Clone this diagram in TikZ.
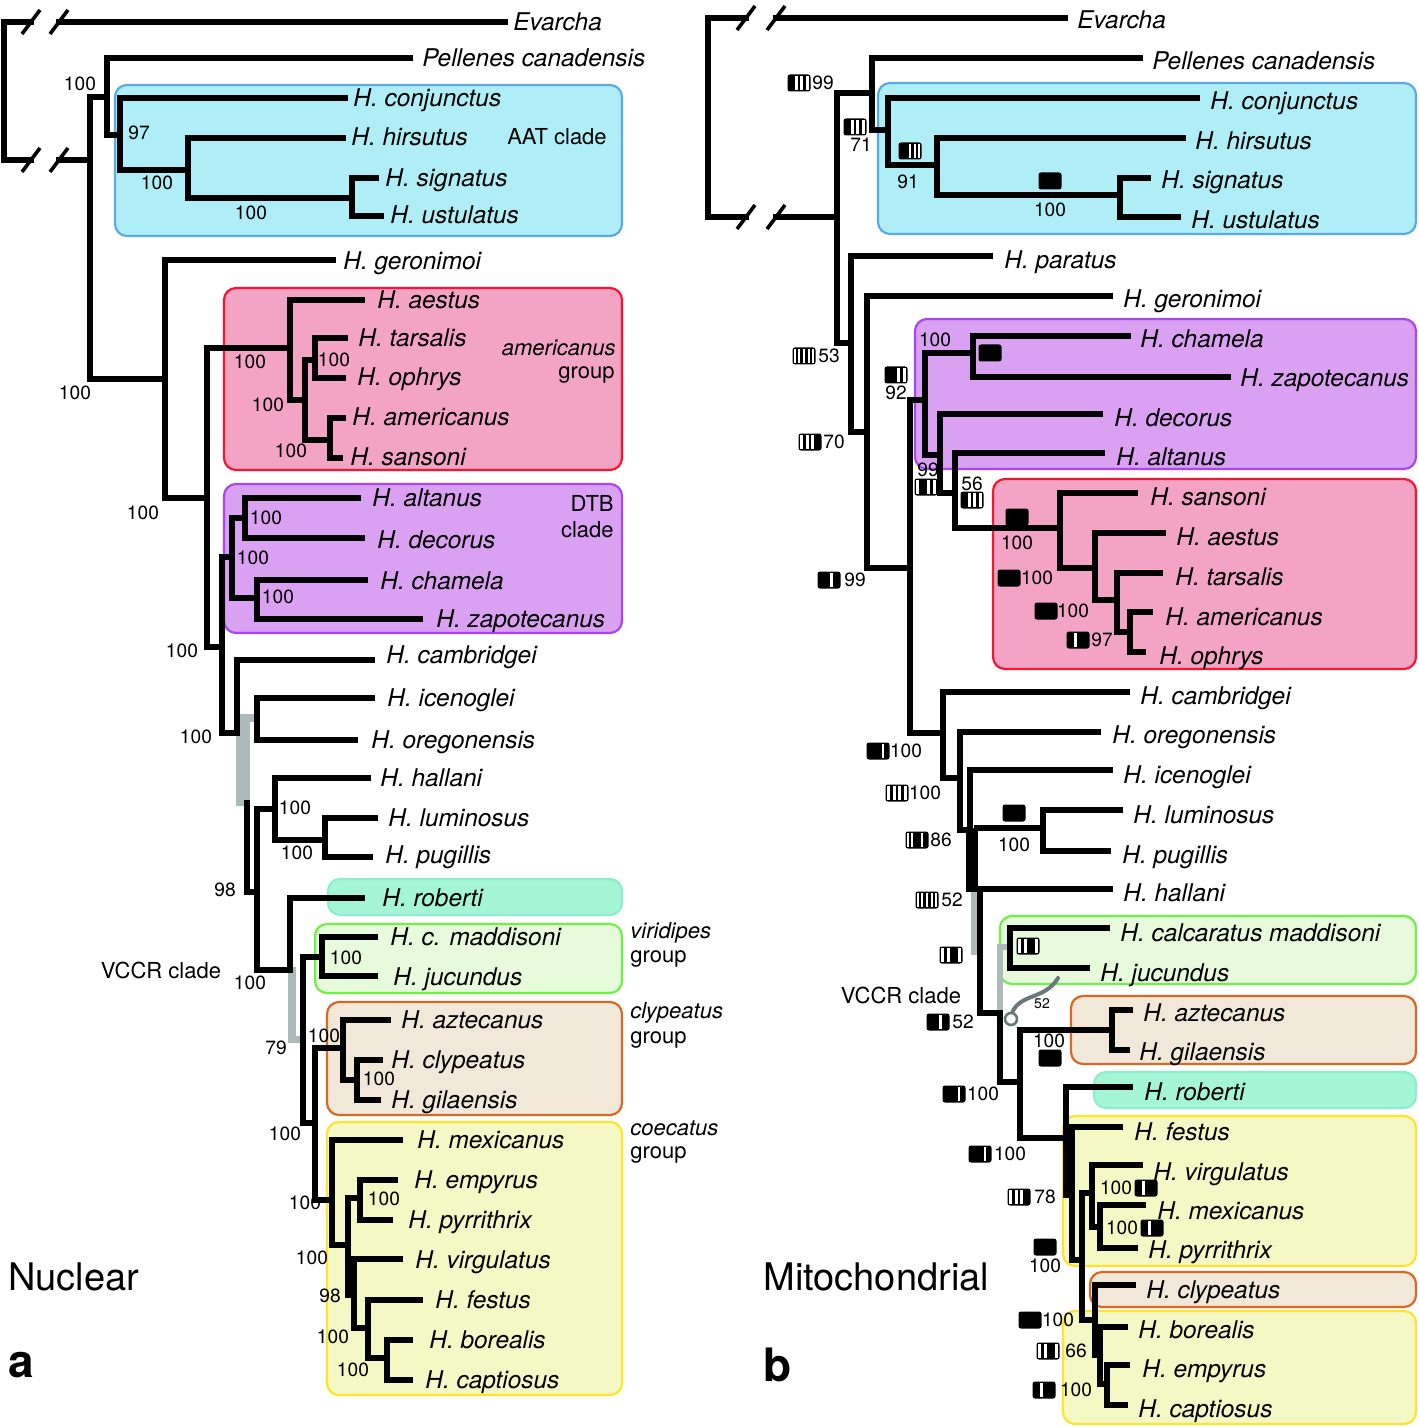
\documentclass[tikz,border=0pt]{standalone}
\usepackage{fontspec}
\setmainfont{TeX Gyre Heros}
\definecolor{bluefill}{RGB}{175,238,246}
\definecolor{blueline}{RGB}{90,170,235}
\definecolor{pinkfill}{RGB}{243,163,195}
\definecolor{pinkline}{RGB}{250,20,50}
\definecolor{purpfill}{RGB}{218,160,242}
\definecolor{purpline}{RGB}{170,70,240}
\definecolor{mintfill}{RGB}{165,245,215}
\definecolor{mintline}{RGB}{140,238,205}
\definecolor{grnfill}{RGB}{232,250,220}
\definecolor{grnline}{RGB}{110,240,70}
\definecolor{orgfill}{RGB}{242,232,218}
\definecolor{orgline}{RGB}{215,105,35}
\definecolor{yelfill}{RGB}{244,248,196}
\definecolor{yelline}{RGB}{255,228,40}
\definecolor{grayband}{RGB}{172,186,186}
\definecolor{graycurve}{RGB}{105,120,120}
\newcounter{tt}\newcounter{nn}
\newcommand\tx[3]{\stepcounter{tt}\node[tx] (t\thett) at ({#1},{#2+8.5}) {#3};}
\newcommand\bs[3]{\stepcounter{nn}\node[bs] (b\thenn) at (#1,#2) {#3};}
\newcommand\mk[4]{%
  \begin{scope}[shift={(#1,#2)}]
    \fill[black,rounded corners=1.2pt] (-11.5,-8.5) rectangle (11.5,8.5);
    \foreach \c [count=\i] in {#4}{%
      \ifnum\c=0
        \fill[white] ({-11.5+(\i-1)*23/#3+1.3},-6.6) rectangle ({-11.5+\i*23/#3-1.3},6.6);
      \fi}
  \end{scope}}
\begin{document}
\begin{tikzpicture}[x=0.5pt,y=-0.5pt,
  br/.style={line width=2.9pt,line cap=rect,line join=miter},
  sl/.style={line width=1.8pt,line cap=butt},
  tx/.style={anchor=base west,inner sep=0pt,font=\fontsize{12.2}{14}\selectfont\itshape},
  bs/.style={inner sep=0pt,font=\fontsize{9.6}{11}\selectfont},
  grp/.style={inner sep=0pt,font=\fontsize{11}{13}\selectfont},
  cladebox/.style={rounded corners=6pt,line width=1.1pt}]
\useasboundingbox (0,0) rectangle (1418,1427);
\fill[white] (0,0) rectangle (1418,1427);

% ---------------- boxes (left) ----------------
\filldraw[cladebox,fill=bluefill,draw=blueline] (115,85) rectangle (622,236);
\filldraw[cladebox,fill=pinkfill,draw=pinkline] (224,288) rectangle (622,470);
\filldraw[cladebox,fill=purpfill,draw=purpline] (224,484) rectangle (622,633);
\filldraw[cladebox,fill=mintfill,draw=mintline] (328,879) rectangle (622,915);
\filldraw[cladebox,fill=grnfill,draw=grnline] (315,924) rectangle (622,993);
\filldraw[cladebox,fill=orgfill,draw=orgline] (327,1002) rectangle (622,1115);
\filldraw[cladebox,fill=yelfill,draw=yelline] (327,1122) rectangle (622,1395);
% ---------------- boxes (right) ----------------
\filldraw[cladebox,fill=bluefill,draw=blueline] (878,83) rectangle (1416,234);
\filldraw[cladebox,fill=purpfill,draw=purpline] (915,319) rectangle (1416,469);
\filldraw[cladebox,fill=pinkfill,draw=pinkline] (993,479) rectangle (1416,669);
\filldraw[cladebox,fill=grnfill,draw=grnline] (1000,916) rectangle (1416,984);
\filldraw[cladebox,fill=orgfill,draw=orgline] (1071,996) rectangle (1416,1064);
\filldraw[cladebox,fill=mintfill,draw=mintline] (1094,1072) rectangle (1416,1108);
\filldraw[cladebox,fill=yelfill,draw=yelline] (1063,1116) rectangle (1416,1266);
\filldraw[cladebox,fill=orgfill,draw=orgline] (1090,1272) rectangle (1416,1307);
\filldraw[cladebox,fill=yelfill,draw=yelline] (1063,1311) rectangle (1416,1424);

% ---------------- gray bands ----------------
\fill[grayband] (236,714) rectangle (250,806);
\fill[grayband] (236,714) rectangle (258,722);
\fill[grayband] (288,967) rectangle (296,1043);
\fill[grayband] (288,1036) rectangle (303,1043);
\fill[grayband] (971,890) rectangle (977,955);
\fill[grayband] (997,944) rectangle (1003,1015);
\fill[grayband] (997,944) rectangle (1012,950);

% ---------------- left tree ----------------
\draw[br] (31,22) -- (4,22) -- (4,160) -- (31,160);
\draw[br] (59,22) -- (505,22);
\draw[br] (59,160) -- (90,160);
\foreach \yy in {22,160}{
  \draw[sl] (22,\yy+12) -- (40,\yy-12);
  \draw[sl] (50,\yy+12) -- (68,\yy-12);}
\draw[br] (90,379) -- (90,97) -- (107,97);
\draw[br] (410,58) -- (107,58) -- (107,135) -- (120,135);
\draw[br] (345,98) -- (120,98) -- (120,170) -- (188,170);
\draw[br] (343,138) -- (188,138) -- (188,198) -- (352,198);
\draw[br] (376,178) -- (352,178) -- (352,216) -- (381,216);
\draw[br] (90,379) -- (165,379);
\draw[br] (333,260) -- (165,260) -- (165,498) -- (207,498);
\draw[br] (290,348) -- (207,348) -- (207,647) -- (222,647);
\draw[br] (362,300) -- (290,300) -- (290,400) -- (305,400);
\draw[br] (315,360) -- (305,360) -- (305,440) -- (330,440);
\draw[br] (345,338) -- (315,338) -- (315,378) -- (343,378);
\draw[br] (343,418) -- (330,418) -- (330,458) -- (340,458);
\draw[br] (222,557) -- (232,557);
\draw[br] (245,518) -- (232,518) -- (232,598) -- (257,598);
\draw[br] (358,498) -- (245,498) -- (245,538) -- (362,538);
\draw[br] (365,580) -- (257,580) -- (257,619) -- (420,619);
\draw[br] (222,557) -- (222,733) -- (237,733);
\draw[br] (372,660) -- (237,660) -- (237,733);
\draw[br] (372,698) -- (257,698) -- (257,740) -- (355,740);
\draw[br] (247,803) -- (247,892) -- (257,892);
\draw[br] (275,809) -- (257,809) -- (257,970) -- (290,970);
\draw[br] (368,778) -- (275,778) -- (275,840) -- (325,840);
\draw[br] (375,818) -- (325,818) -- (325,857) -- (370,857);
\draw[br] (362,898) -- (290,898) -- (290,970);
\draw[br] (322,957) -- (303,957) -- (303,1123) -- (315,1123);
\draw[br] (375,937) -- (322,937) -- (322,976) -- (375,976);
\draw[br] (343,1048) -- (315,1048) -- (315,1200) -- (332,1200);
\draw[br] (388,1020) -- (343,1020) -- (343,1080) -- (357,1080);
\draw[br] (380,1060) -- (357,1060) -- (357,1100) -- (378,1100);
\draw[br] (400,1140) -- (332,1140) -- (332,1245) -- (348,1245);
\draw[br] (360,1198) -- (348,1198) -- (348,1295) -- (354,1295);
\draw[br] (395,1180) -- (360,1180) -- (360,1220) -- (390,1220);
\draw[br] (400,1259) -- (354,1259) -- (354,1328) -- (368,1328);
\draw[br] (420,1300) -- (368,1300) -- (368,1358) -- (387,1358);
\draw[br] (410,1340) -- (387,1340) -- (387,1380) -- (410,1380);

% ---------------- right tree ----------------
\draw[br] (746,18) -- (708,18) -- (708,217) -- (746,217);
\draw[br] (776,18) -- (1065,18);
\draw[br] (776,217) -- (837,217);
\foreach \yy in {18,217}{
  \draw[sl] (737,\yy+12) -- (755,\yy-12);
  \draw[sl] (767,\yy+12) -- (785,\yy-12);}
\draw[br] (837,343) -- (837,93) -- (872,93);
\draw[br] (1140,58) -- (872,58) -- (872,130) -- (888,130);
\draw[br] (1197,98) -- (888,98) -- (888,165) -- (937,165);
\draw[br] (1183,138) -- (937,138) -- (937,195) -- (1120,195);
\draw[br] (1148,178) -- (1120,178) -- (1120,217) -- (1178,217);
\draw[br] (837,343) -- (851,343);
\draw[br] (990,256) -- (851,256) -- (851,432) -- (867,432);
\draw[br] (1110,296) -- (867,296) -- (867,568) -- (910,568);
\draw[br] (925,400) -- (910,400) -- (910,733) -- (943,733);
\draw[br] (973,353) -- (925,353) -- (925,455) -- (940,455);
\draw[br] (1128,336) -- (973,336) -- (973,377) -- (1228,377);
\draw[br] (1100,414) -- (940,414) -- (940,493) -- (955,493);
\draw[br] (1102,453) -- (955,453) -- (955,528) -- (1060,528);
\draw[br] (1135,493) -- (1060,493) -- (1060,568) -- (1095,568);
\draw[br] (1163,533) -- (1095,533) -- (1095,600) -- (1117,600);
\draw[br] (1160,573) -- (1117,573) -- (1117,632) -- (1130,632);
\draw[br] (1150,612) -- (1130,612) -- (1130,652) -- (1143,652);
\draw[br] (1127,692) -- (943,692) -- (943,778) -- (960,778);
\draw[br] (1098,732) -- (960,732) -- (960,830) -- (970,830);
\draw[br] (1110,770) -- (970,770) -- (970,889);
\fill[black] (966,828) rectangle (978,892);
\draw[br] (977,828) -- (1043,828);
\draw[br] (1120,810) -- (1043,810) -- (1043,851) -- (1108,851);
\draw[br] (970,889) -- (1110,889);
\draw[br] (980,889) -- (980,1013) -- (1000,1013);
\draw[br] (1107,928) -- (1010,928) -- (1010,968) -- (1087,968);
\draw[br] (1000,1013) -- (1000,1082) -- (1020,1082);
\draw[br] (1112,1030) -- (1020,1030) -- (1020,1138) -- (1066,1138);
\draw[br] (1130,1010) -- (1112,1010) -- (1112,1050) -- (1127,1050);
\draw[br] (1130,1087) -- (1066,1087) -- (1066,1195) -- (1072,1195);
\draw[br] (1120,1127) -- (1072,1127) -- (1072,1260) -- (1082,1260);
\draw[br] (1092,1193) -- (1082,1193) -- (1082,1320) -- (1095,1320);
\draw[br] (1140,1165) -- (1092,1165) -- (1092,1227) -- (1100,1227);
\draw[br] (1143,1205) -- (1100,1205) -- (1100,1248) -- (1135,1248);
\draw[br] (1133,1285) -- (1095,1285) -- (1095,1355) -- (1100,1355);
\draw[br] (1125,1327) -- (1100,1327) -- (1100,1384) -- (1107,1384);
\draw[br] (1127,1365) -- (1107,1365) -- (1107,1405) -- (1125,1405);

% gray curve with open circle
\draw[graycurve,line width=2pt,line cap=round] (1012,1013) .. controls (1020,993) and (1045,1000) .. (1058,978);
\filldraw[draw=graycurve,fill=white,line width=1.3pt] (1011,1019) circle (6);
\node[inner sep=0pt,font=\fontsize{7}{8}\selectfont] (c52) at (1042,1004) {52};

% ---------------- markers (right) ----------------
\mk{799}{83}{4}{1,0,0,0}
\mk{855}{127}{4}{1,0,0,0}
\mk{910}{151}{5}{1,1,0,0,0}
\mk{1050}{181}{4}{1,1,1,1}
\mk{804}{356}{5}{0,0,0,0,0}
\mk{896}{375}{4}{1,1,0,0}
\mk{810}{442}{4}{0,0,0,1}
\mk{990}{353}{4}{1,1,1,1}
\mk{926}{487}{4}{0,1,0,0}
\mk{972}{500}{4}{1,0,0,0}
\mk{829}{580}{4}{1,1,0,1}
\mk{1017}{517}{4}{1,1,1,1}
\mk{1009}{578}{4}{1,1,1,1}
\mk{1046}{611}{4}{1,1,1,1}
\mk{1078}{640}{4}{1,0,1,1}
\mk{878}{751}{5}{1,1,1,0,1}
\mk{897}{793}{4}{0,0,0,0}
\mk{917}{840}{5}{0,0,1,0,1}
\mk{927}{900}{5}{0,0,0,0,0}
\mk{951}{955}{4}{0,0,1,0}
\mk{938}{1022}{4}{1,1,0,1}
\mk{1014}{813}{4}{1,1,1,1}
\mk{1028}{946}{4}{0,0,1,0}
\mk{1050}{1058}{4}{1,1,1,1}
\mk{954}{1094}{5}{1,1,1,0,1}
\mk{980}{1154}{5}{1,1,1,0,1}
\mk{1019}{1197}{4}{0,0,0,1}
\mk{1045}{1247}{4}{1,1,1,1}
\mk{1030}{1320}{4}{1,1,1,1}
\mk{1048}{1351}{4}{0,0,1,0}
\mk{1044}{1390}{4}{1,0,1,1}
\mk{1146}{1188}{4}{1,0,1,1}
\mk{1152}{1228}{4}{1,0,1,1}

% ---------------- support values (left) ----------------
\bs{80}{84}{100}\bs{139}{133}{97}\bs{157}{183}{100}\bs{251}{213}{100}
\bs{75}{393}{100}\bs{143}{513}{100}\bs{250}{362}{100}\bs{334}{360}{100}
\bs{268}{405}{100}\bs{291}{451}{100}\bs{266}{518}{100}\bs{253}{558}{100}
\bs{278}{597}{100}\bs{182}{651}{100}\bs{196}{737}{100}\bs{295}{808}{100}
\bs{297}{853}{100}\bs{225}{890}{98}\bs{250}{983}{100}\bs{346}{958}{100}
\bs{324}{1036}{100}\bs{276}{1048}{79}\bs{379}{1079}{100}\bs{285}{1134}{100}
\bs{384}{1199}{100}\bs{305}{1203}{100}\bs{312}{1258}{100}\bs{330}{1296}{98}
\bs{333}{1337}{100}\bs{353}{1370}{100}
% ---------------- support values (right) ----------------
\bs{823}{83}{99}\bs{861}{145}{71}\bs{908}{182}{91}\bs{1050}{210}{100}
\bs{829}{356}{53}\bs{896}{393}{92}\bs{834}{442}{70}\bs{935}{340}{100}
\bs{928}{470}{99}\bs{972}{484}{56}\bs{855}{580}{99}\bs{1017}{543}{100}
\bs{1037}{578}{100}\bs{1073}{611}{100}\bs{1102}{640}{97}\bs{906}{751}{100}
\bs{925}{793}{100}\bs{941}{840}{86}\bs{952}{900}{52}\bs{963}{1022}{52}
\bs{1014}{845}{100}\bs{1049}{1041}{100}\bs{983}{1094}{100}\bs{1010}{1154}{100}
\bs{1045}{1197}{78}\bs{1045}{1266}{100}\bs{1058}{1320}{100}\bs{1076}{1351}{66}
\bs{1076}{1390}{100}\bs{1116}{1188}{100}\bs{1122}{1228}{100}

% ---------------- taxa (left) ----------------
\tx{513}{22}{Evarcha}
\tx{422}{58}{Pellenes canadensis}
\tx{353}{98}{H. conjunctus}
\tx{351}{137}{H. hirsutus}
\tx{385}{178}{H. signatus}
\tx{390}{215}{H. ustulatus}
\tx{343}{261}{H. geronimoi}
\tx{377}{300}{H. aestus}
\tx{358}{338}{H. tarsalis}
\tx{357}{377}{H. ophrys}
\tx{352}{417}{H. americanus}
\tx{350}{457}{H. sansoni}
\tx{372}{498}{H. altanus}
\tx{377}{540}{H. decorus}
\tx{380}{581}{H. chamela}
\tx{436}{619}{H. zapotecanus}
\tx{386}{655}{H. cambridgei}
\tx{387}{698}{H. icenoglei}
\tx{371}{740}{H. oregonensis}
\tx{380}{778}{H. hallani}
\tx{388}{818}{H. luminosus}
\tx{385}{855}{H. pugillis}
\tx{382}{898}{H. roberti}
\tx{390}{937}{H. c. maddisoni}
\tx{393}{977}{H. jucundus}
\tx{401}{1020}{H. aztecanus}
\tx{391}{1060}{H. clypeatus}
\tx{391}{1100}{H. gilaensis}
\tx{417}{1140}{H. mexicanus}
\tx{414}{1180}{H. empyrus}
\tx{408}{1220}{H. pyrrithrix}
\tx{415}{1260}{H. virgulatus}
\tx{435}{1300}{H. festus}
\tx{429}{1340}{H. borealis}
\tx{425}{1380}{H. captiosus}
% ---------------- taxa (right) ----------------
\tx{1077}{20}{Evarcha}
\tx{1152}{61}{Pellenes canadensis}
\tx{1210}{101}{H. conjunctus}
\tx{1195}{141}{H. hirsutus}
\tx{1161}{180}{H. signatus}
\tx{1191}{220}{H. ustulatus}
\tx{1004}{260}{H. paratus}
\tx{1123}{299}{H. geronimoi}
\tx{1140}{339}{H. chamela}
\tx{1240}{378}{H. zapotecanus}
\tx{1114}{418}{H. decorus}
\tx{1116}{457}{H. altanus}
\tx{1150}{497}{H. sansoni}
\tx{1176}{537}{H. aestus}
\tx{1175}{577}{H. tarsalis}
\tx{1165}{617}{H. americanus}
\tx{1159}{656}{H. ophrys}
\tx{1140}{696}{H. cambridgei}
\tx{1112}{735}{H. oregonensis}
\tx{1123}{775}{H. icenoglei}
\tx{1133}{815}{H. luminosus}
\tx{1122}{855}{H. pugillis}
\tx{1123}{893}{H. hallani}
\tx{1120}{933}{H. calcaratus maddisoni}
\tx{1100}{973}{H. jucundus}
\tx{1143}{1013}{H. aztecanus}
\tx{1139}{1052}{H. gilaensis}
\tx{1144}{1092}{H. roberti}
\tx{1134}{1132}{H. festus}
\tx{1153}{1172}{H. virgulatus}
\tx{1157}{1211}{H. mexicanus}
\tx{1148}{1250}{H. pyrrithrix}
\tx{1146}{1290}{H. clypeatus}
\tx{1138}{1330}{H. borealis}
\tx{1142}{1369}{H. empyrus}
\tx{1138}{1409}{H. captiosus}

% ---------------- group labels ----------------
\node[grp] (gaat) at (557,137) {AAT clade};
\node[grp,anchor=east,font=\fontsize{11}{13}\selectfont\itshape] (gam1) at (616,348) {americanus};
\node[grp,anchor=east] (gam2) at (615,375) {group};
\node[grp,anchor=east] (gdtb1) at (614,503) {DTB};
\node[grp,anchor=east] (gdtb2) at (614,530) {clade};
\node[grp,anchor=west,font=\fontsize{11}{13}\selectfont\itshape] (gv1) at (630,933) {viridipes};
\node[grp,anchor=west] (gv2) at (630,959) {group};
\node[grp,anchor=west,font=\fontsize{11}{13}\selectfont\itshape] (gc1) at (630,1013) {clypeatus};
\node[grp,anchor=west] (gc2) at (630,1040) {group};
\node[grp,anchor=west,font=\fontsize{11}{13}\selectfont\itshape] (gk1) at (630,1128) {coecatus};
\node[grp,anchor=west] (gk2) at (630,1155) {group};
\node[grp] (vccr1) at (161,970) {VCCR clade};
\node[grp] (vccr2) at (901,995) {VCCR clade};
\node[anchor=west,inner sep=0pt,font=\fontsize{19}{22}\selectfont] (nuc) at (8,1277) {Nuclear};
\node[anchor=west,inner sep=0pt,font=\fontsize{19}{22}\selectfont] (mito) at (763,1277) {Mitochondrial};
\node[anchor=west,inner sep=0pt,font=\fontsize{23}{26}\selectfont\bfseries] (pa) at (8,1365) {a};
\node[anchor=west,inner sep=0pt,font=\fontsize{23}{26}\selectfont\bfseries] (pb) at (763,1365) {b};
\end{tikzpicture}
\end{document}
